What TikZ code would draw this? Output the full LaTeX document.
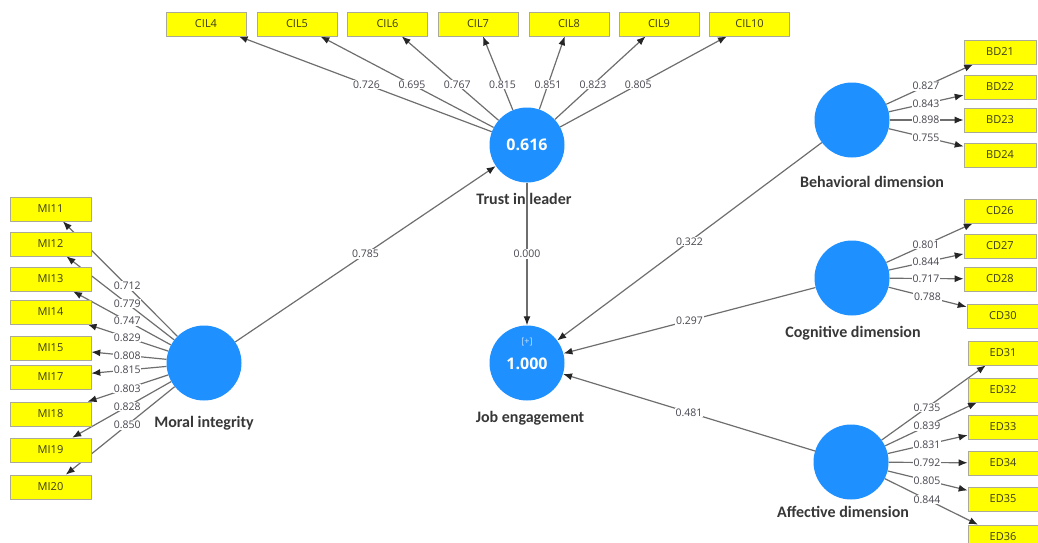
\documentclass[tikz,border=0pt]{standalone}
\usepackage{fontspec}
\setmainfont{Open Sans}
\newfontfamily\capfont{Carlito}
\usetikzlibrary{calc,backgrounds,arrows.meta}
\definecolor{lvblue}{RGB}{30,144,255}
\definecolor{ylw}{RGB}{255,255,0}
\definecolor{boxline}{RGB}{170,170,150}
\definecolor{boxtext}{RGB}{60,60,30}
\definecolor{captext}{RGB}{55,55,55}
\definecolor{numtext}{RGB}{70,70,80}
\definecolor{linegray}{RGB}{110,110,110}
\begin{document}
\begin{tikzpicture}[x=1pt,y=-1pt,
  lv/.style={circle,fill=lvblue,minimum size=75pt,inner sep=0pt},
  ind/.style={rectangle,draw=boxline,line width=0.6pt,fill=ylw,minimum width=80pt,minimum height=24pt,inner sep=0pt,
    font=\fontsize{11}{13}\selectfont,text=boxtext},
  indr/.style={ind,minimum width=70pt},
  lvcap/.style={font=\capfont\bfseries\fontsize{16}{18}\selectfont,text=captext},
  wt/.style={fill=white,inner sep=0.8pt,font=\fontsize{10.5}{12}\selectfont,text=numtext},
  link/.style={draw=linegray,line width=1.2pt,-{Latex[length=9pt,width=7pt,color=black!85]}},
  rsq/.style={font=\bfseries\fontsize{16}{18}\selectfont,text=white}]
\useasboundingbox (0,0) rectangle (1038,543);
\clip (0,0) rectangle (1038,543);

% latent variables
\node[lv] (trust)  at (527,145) {};
\node[lv] (job)    at (527,363) {};
\node[lv] (moral)  at (204,363) {};
\node[lv] (behav)  at (852,120) {};
\node[lv] (cogn)   at (852,278) {};
\node[lv] (affect) at (851,462) {};

\node[rsq] (trustr2) at (trust) {0.616};
\node[font=\fontsize{9}{10}\selectfont,text=white!75!lvblue] (jobplus) at (527,342) {[+]};
\node[rsq] (jobr2) at (527,364) {1.000};

\node[lvcap] (trustcap)  at (524,199) {Trust in leader};
\node[lvcap] (jobcap)    at (530,418) {Job engagement};
\node[lvcap] (moralcap)  at (204,423) {Moral integrity};
\node[lvcap] (behavcap)  at (872,182) {Behavioral dimension};
\node[lvcap] (cogncap)   at (853,333) {Cognitive dimension};
\node[lvcap] (affectcap) at (843,512) {Affective dimension};

% indicators
\foreach \n/\x in {4/206,5/297,6/387.5,7/478,8/569,9/659,10/749.5}
  \node[ind] (cil\n) at (\x,24) {CIL\n};
\foreach \n/\y in {11/209,12/244,13/279,14/312,15/348,17/377,18/414,19/450,20/487}
  \node[ind,minimum width=81pt] (mi\n) at (50.5,\y) {MI\n};
\foreach \n/\y in {21/52,22/87,23/120,24/155}
  \node[indr,minimum width=72pt] (bd\n) at (1000,\y) {BD\n};
\foreach \n/\x/\y in {26/1000/211,27/1000/246,28/1000/279,30/1003/316}
  \node[indr,minimum width=72pt] (cd\n) at (\x,\y) {CD\n};
\foreach \n/\y in {31/353,32/390,33/427,34/463,35/499,36/537}
  \node[indr] (ed\n) at (1003,\y) {ED\n};

% connectors and their coefficients
\begin{scope}[on background layer]
  \foreach \a/\b/\v in {
      trust/cil4/0.726,trust/cil5/0.695,trust/cil6/0.767,trust/cil7/0.815,
      trust/cil8/0.851,trust/cil9/0.823,trust/cil10/0.805,
      moral/mi11/0.712,moral/mi12/0.779,moral/mi13/0.747,moral/mi14/0.829,
      moral/mi15/0.808,moral/mi17/0.815,moral/mi18/0.803,moral/mi19/0.828,moral/mi20/0.850,
      behav/bd21/0.827,behav/bd22/0.843,behav/bd23/0.898,behav/bd24/0.755,
      cogn/cd26/0.801,cogn/cd27/0.844,cogn/cd28/0.717,cogn/cd30/0.788,
      affect/ed31/0.735,affect/ed32/0.839,affect/ed33/0.831,affect/ed34/0.792,
      affect/ed35/0.805,affect/ed36/0.844,
      moral/trust/0.785,trust/job/0.000,behav/job/0.322,cogn/job/0.297,affect/job/0.481}
    \draw[link] (\a) -- (\b);
  \foreach \a/\b/\v in {
      trust/cil4/0.726,trust/cil5/0.695,trust/cil6/0.767,trust/cil7/0.815,
      trust/cil8/0.851,trust/cil9/0.823,trust/cil10/0.805,
      moral/mi11/0.712,moral/mi12/0.779,moral/mi13/0.747,moral/mi14/0.829,
      moral/mi15/0.808,moral/mi17/0.815,moral/mi18/0.803,moral/mi19/0.828,moral/mi20/0.850,
      behav/bd21/0.827,behav/bd22/0.843,behav/bd23/0.898,behav/bd24/0.755,
      cogn/cd26/0.801,cogn/cd27/0.844,cogn/cd28/0.717,cogn/cd30/0.788,
      affect/ed31/0.735,affect/ed32/0.839,affect/ed33/0.831,affect/ed34/0.792,
      affect/ed35/0.805,affect/ed36/0.844,
      moral/trust/0.785,trust/job/0.000,behav/job/0.322,cogn/job/0.297,affect/job/0.481}
    \node[wt] at ($(\a)!0.5!(\b)$) {\v};
\end{scope}
\end{tikzpicture}
\end{document}
